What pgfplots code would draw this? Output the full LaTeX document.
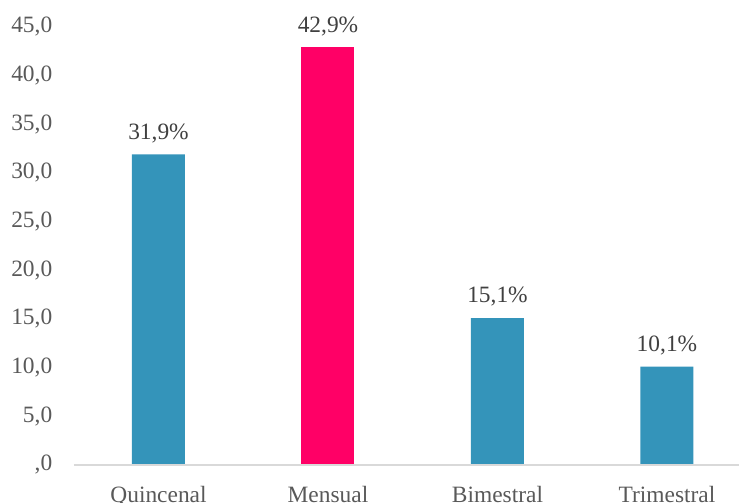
\documentclass[border=0pt]{standalone}
\usepackage{pgfplots}
\pgfplotsset{compat=1.18}
\usepackage{fontspec}
\setmainfont{Liberation Serif}
\definecolor{teal1}{HTML}{3494BA}
\definecolor{pink1}{HTML}{FF0066}
\definecolor{tickgray}{HTML}{595959}
\definecolor{lblgray}{HTML}{404040}
\definecolor{basegray}{HTML}{D9D9D9}
\begin{document}
\begin{tikzpicture}[x=1bp,y=1bp]
\path[use as bounding box] (0,0) rectangle (739,503);
\begin{axis}[
  at={(73.75bp,38bp)}, anchor=south west,
  scale only axis,
  width=665.25bp, height=438bp,
  xmin=-0.5, xmax=3.425,
  ymin=0, ymax=45,
  axis line style={draw=none},
  major tick length=0,
  xtick={0,1,2,3},
  xticklabels={Quincenal,Mensual,Bimestral,Trimestral},
  ytick={0,5,10,15,20,25,30,35,40,45},
  yticklabels={{,0},{5,0},{10,0},{15,0},{20,0},{25,0},{30,0},{35,0},{40,0},{45,0}},
  tick label style={font=\fontsize{23.5}{28}\selectfont, text=tickgray},
  xticklabel style={yshift=-18bp},
  yticklabel style={xshift=-18bp},
  ybar, bar width=53bp, bar shift=0pt,
  /pgf/number format/assume math mode=true,
  nodes near coords={\pgfmathprintnumber[fixed,fixed zerofill,precision=1,use comma]{\pgfplotspointmeta}\%},
  every node near coord/.append style={font=\fontsize{23.5}{28}\selectfont, text=lblgray, yshift=8bp},
  clip=false,
]
\addplot[fill=teal1, draw=none] coordinates {(0,31.9) (2,15.1) (3,10.1)};
\addplot[fill=pink1, draw=none] coordinates {(1,42.9)};
\draw[basegray, line width=1.2bp] (axis cs:-0.5,0) -- (axis cs:3.425,0);
\end{axis}
\end{tikzpicture}
\end{document}
